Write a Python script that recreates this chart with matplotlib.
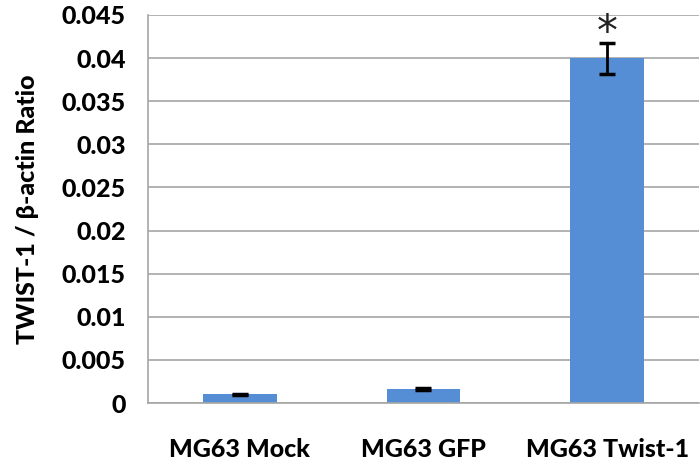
import numpy as np
import matplotlib
matplotlib.use("Agg")
import matplotlib.pyplot as plt

# qPCR expression of TWIST-1 normalised to beta-actin
groups = ["MG63 Mock", "MG63 GFP", "MG63 Twist-1"]
ratio = [0.001, 0.0016, 0.040]
ratio_err = [0.0001, 0.0001, 0.0018]
y_ticks = [0, 0.005, 0.01, 0.015, 0.02, 0.025, 0.03, 0.035, 0.04, 0.045]
y_tick_labels = ["0", "0.005", "0.01", "0.015", "0.02", "0.025", "0.03", "0.035", "0.04", "0.045"]
signif = ["", "", "*"]

plt.rcParams['font.family'] = ['Lato', 'DejaVu Sans']

fig = plt.figure(figsize=(7, 4.67), dpi=100)
ax = fig.add_axes([0.2114, 0.137, 0.787, 0.831])

x = np.arange(len(groups))
ax.bar(x, ratio, width=0.4, color='#558ED5', zorder=2)
ax.errorbar(x, ratio, yerr=ratio_err, fmt='none', ecolor='black',
            elinewidth=2, capsize=6, capthick=2.5, zorder=3)

for xi, val, err, mark in zip(x, ratio, ratio_err, signif):
    if mark:
        ax.text(xi, val + err + 0.0011, mark, ha='center', va='center',
                fontsize=30, family='DejaVu Sans', color='#222222', clip_on=False)

ax.set_xlim(-0.5, 2.5)
ax.set_ylim(0, 0.045)
ax.set_yticks(y_ticks)
ax.set_yticklabels(y_tick_labels, fontsize=18, fontweight='black')
ax.set_xticks(x)
ax.set_xticklabels(groups, fontsize=18, fontweight='black')
ax.tick_params(axis='y', length=0, pad=16)
ax.tick_params(axis='x', length=0, pad=25)

ax.yaxis.grid(True, color='#a6a6a6', linewidth=1.2, zorder=0)
ax.set_axisbelow(True)
for side in ['top', 'right']:
    ax.spines[side].set_visible(False)
for side in ['left', 'bottom']:
    ax.spines[side].set_color('#a6a6a6')
    ax.spines[side].set_linewidth(1.2)

ax.set_ylabel("TWIST-1 / \u03b2-actin Ratio", fontsize=18, fontweight='black', labelpad=16)

fig.savefig("out.png", dpi=100)
